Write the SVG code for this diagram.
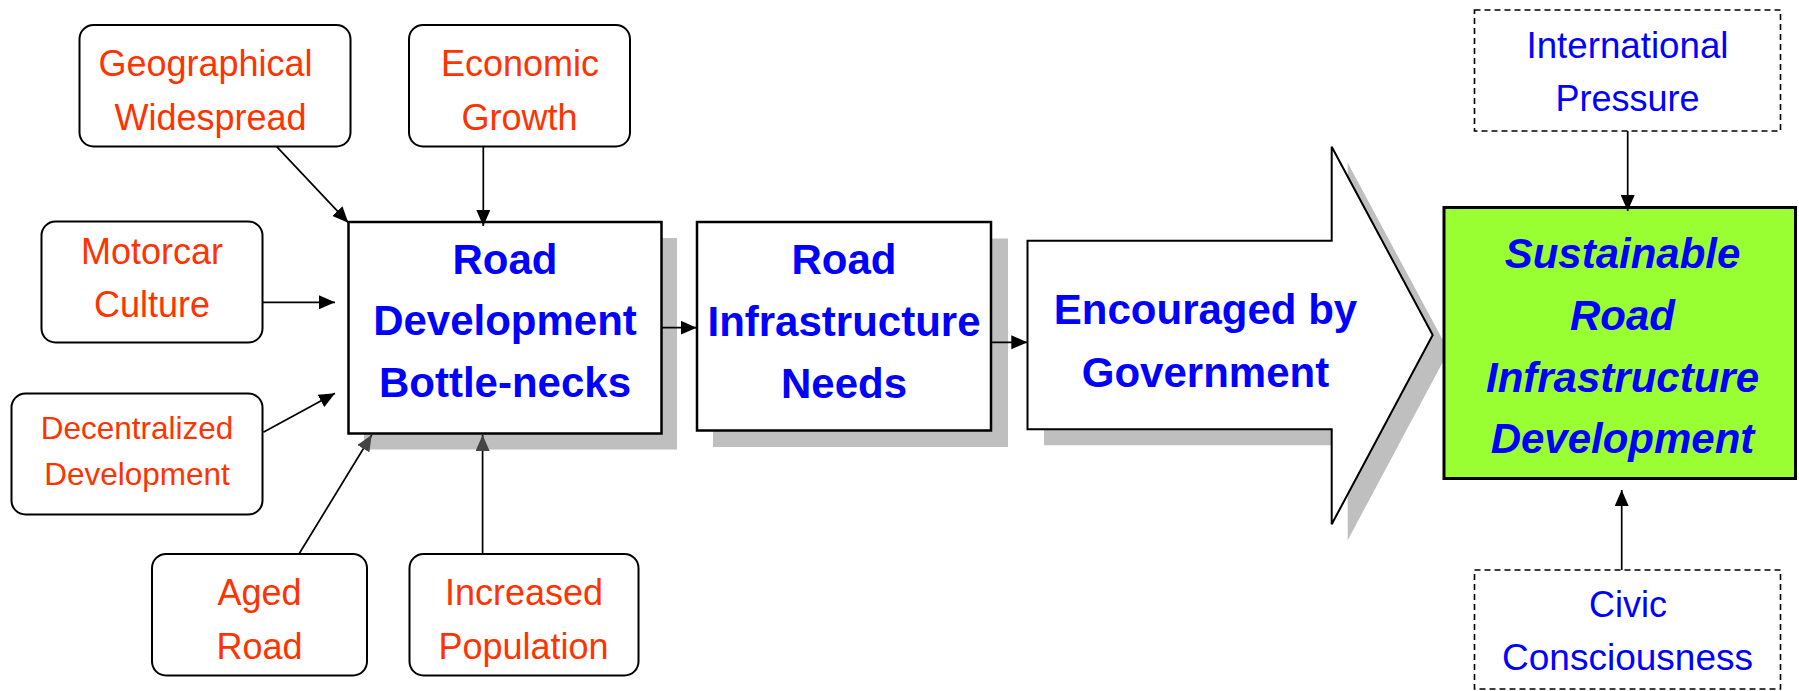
<svg xmlns="http://www.w3.org/2000/svg" width="1799" height="691" viewBox="0 0 1799 691">
  <style>
    .factor { fill: #ffffff; stroke: #000000; stroke-width: 2; }
    .main { fill: #ffffff; stroke: #000000; stroke-width: 2.5; }
    .shadow { fill: #bfbfbf; stroke: none; }
    .goal { fill: #99ff33; stroke: #000000; stroke-width: 3; }
    .ext { fill: #ffffff; stroke: #000000; stroke-width: 1.6; stroke-dasharray: 6 4; }
    .red { font-family: "Liberation Sans", Arial, sans-serif; font-size: 36px; fill: #ff3300; text-anchor: middle; }
    .blue { font-family: "Liberation Sans", Arial, sans-serif; font-size: 36px; fill: #0000ff; text-anchor: middle; }
    .bold { font-family: "Liberation Sans", Arial, sans-serif; font-size: 42px; font-weight: bold; fill: #0000ff; text-anchor: middle; }
    .bolditalic { font-family: "Liberation Sans", Arial, sans-serif; font-size: 42px; font-weight: bold; font-style: italic; fill: #0000ff; text-anchor: middle; }
    .link { fill: none; stroke: #000000; stroke-width: 1.7; }
  </style>
  <defs>
    <marker id="head" markerUnits="userSpaceOnUse" viewBox="0 0 16 14" markerWidth="16" markerHeight="14" refX="16" refY="7" orient="auto">
      <path d="M0,0 L16,7 L0,14 Z" fill="#000000"/>
    </marker>
    <marker id="headShade" markerUnits="userSpaceOnUse" viewBox="0 0 16 14" markerWidth="16" markerHeight="14" refX="16" refY="7" orient="auto">
      <path d="M0,0 L16,7 L0,14 Z" fill="#444444"/>
    </marker>
  </defs>

  <rect width="1799" height="691" fill="#ffffff"/>

  <!-- influencing factors -->
  <g id="geographical">
    <rect class="factor" x="79.5" y="25" width="271" height="121.5" rx="14"/>
    <text class="red" x="205.5" y="76">Geographical</text>
    <text class="red" x="210.5" y="129.5">Widespread</text>
  </g>
  <g id="economic">
    <rect class="factor" x="409" y="25" width="221" height="121.5" rx="14"/>
    <text class="red" x="520" y="76">Economic</text>
    <text class="red" x="519.5" y="129.5">Growth</text>
  </g>
  <g id="motorcar">
    <rect class="factor" x="41.5" y="221.5" width="221" height="121" rx="14"/>
    <text class="red" x="152" y="263.5">Motorcar</text>
    <text class="red" x="152" y="316.5">Culture</text>
  </g>
  <g id="decentralized">
    <rect class="factor" x="11.5" y="393.5" width="251" height="121" rx="14"/>
    <text class="red" x="137" y="438.5" style="font-size:31.5px">Decentralized</text>
    <text class="red" x="137" y="485" style="font-size:31.5px">Development</text>
  </g>
  <g id="aged">
    <rect class="factor" x="152" y="554" width="215" height="121.5" rx="14"/>
    <text class="red" x="259.5" y="605">Aged</text>
    <text class="red" x="259.5" y="659">Road</text>
  </g>
  <g id="population">
    <rect class="factor" x="409.5" y="554" width="229" height="121.5" rx="14"/>
    <text class="red" x="524" y="605">Increased</text>
    <text class="red" x="523.5" y="659">Population</text>
  </g>

  <!-- main chain -->
  <g id="bottlenecks">
    <rect class="shadow" x="364" y="238" width="313" height="211.5"/>
    <rect class="main" x="348.5" y="222" width="313" height="211.5"/>
    <text class="bold" x="505" y="274">Road</text>
    <text class="bold" x="505" y="335">Development</text>
    <text class="bold" x="505" y="397" textLength="252" lengthAdjust="spacingAndGlyphs">Bottle-necks</text>
  </g>
  <g id="needs">
    <rect class="shadow" x="713" y="238.5" width="295" height="208.5"/>
    <rect class="main" x="697" y="222" width="294" height="208.5"/>
    <text class="bold" x="844" y="274">Road</text>
    <text class="bold" x="844" y="336">Infrastructure</text>
    <text class="bold" x="844" y="397.5">Needs</text>
  </g>
  <g id="government">
    <path class="shadow" d="M1044,256.7 L1347.7,256.7 L1347.7,162.7 L1448.7,351 L1347.7,540.3 L1347.7,445.3 L1044,445.3 Z"/>
    <path class="main" style="stroke-width:2" d="M1027.5,240.7 L1331.7,240.7 L1331.7,146.7 L1432.7,335 L1331.7,524.3 L1331.7,429.3 L1027.5,429.3 Z"/>
    <text class="bold" x="1205.5" y="324">Encouraged by</text>
    <text class="bold" x="1205.5" y="386.5">Government</text>
  </g>
  <g id="sustainable">
    <rect class="goal" x="1444" y="207.5" width="351.5" height="271"/>
    <text class="bolditalic" x="1622.5" y="267.5">Sustainable</text>
    <text class="bolditalic" x="1622.5" y="329.5">Road</text>
    <text class="bolditalic" x="1622.5" y="392">Infrastructure</text>
    <text class="bolditalic" x="1622.5" y="452.5">Development</text>
  </g>

  <!-- external drivers -->
  <g id="international">
    <rect class="ext" x="1474.5" y="10" width="306" height="121"/>
    <text class="blue" x="1627.5" y="57.5" textLength="202" lengthAdjust="spacingAndGlyphs">International</text>
    <text class="blue" x="1627.5" y="110.5">Pressure</text>
  </g>
  <g id="civic">
    <rect class="ext" x="1474.5" y="570" width="306" height="119"/>
    <text class="blue" x="1628" y="616.5">Civic</text>
    <text class="blue" x="1627.5" y="670" textLength="251" lengthAdjust="spacingAndGlyphs">Consciousness</text>
  </g>

  <!-- connectors -->
  <g id="connectors">
    <line class="link" x1="276.7" y1="146.7" x2="348.3" y2="222.7" marker-end="url(#head)"/>
    <line class="link" x1="483.3" y1="146.7" x2="483.3" y2="226" marker-end="url(#head)"/>
    <line class="link" x1="262.7" y1="302.3" x2="335" y2="302.3" marker-end="url(#head)"/>
    <line class="link" x1="263.3" y1="432.3" x2="335" y2="393.3" marker-end="url(#head)"/>
    <line class="link" x1="299" y1="554" x2="371.7" y2="435" marker-end="url(#headShade)"/>
    <line class="link" x1="482.6" y1="554" x2="482.6" y2="435" marker-end="url(#headShade)"/>
    <line class="link" x1="661.7" y1="327.7" x2="696.7" y2="327.7" marker-end="url(#head)"/>
    <line class="link" x1="991" y1="342.3" x2="1027.3" y2="342.3" marker-end="url(#head)"/>
    <line class="link" x1="1627.7" y1="131" x2="1627.7" y2="211" marker-end="url(#head)"/>
    <line class="link" x1="1621.7" y1="570" x2="1621.7" y2="490" marker-end="url(#head)"/>
  </g>
</svg>
